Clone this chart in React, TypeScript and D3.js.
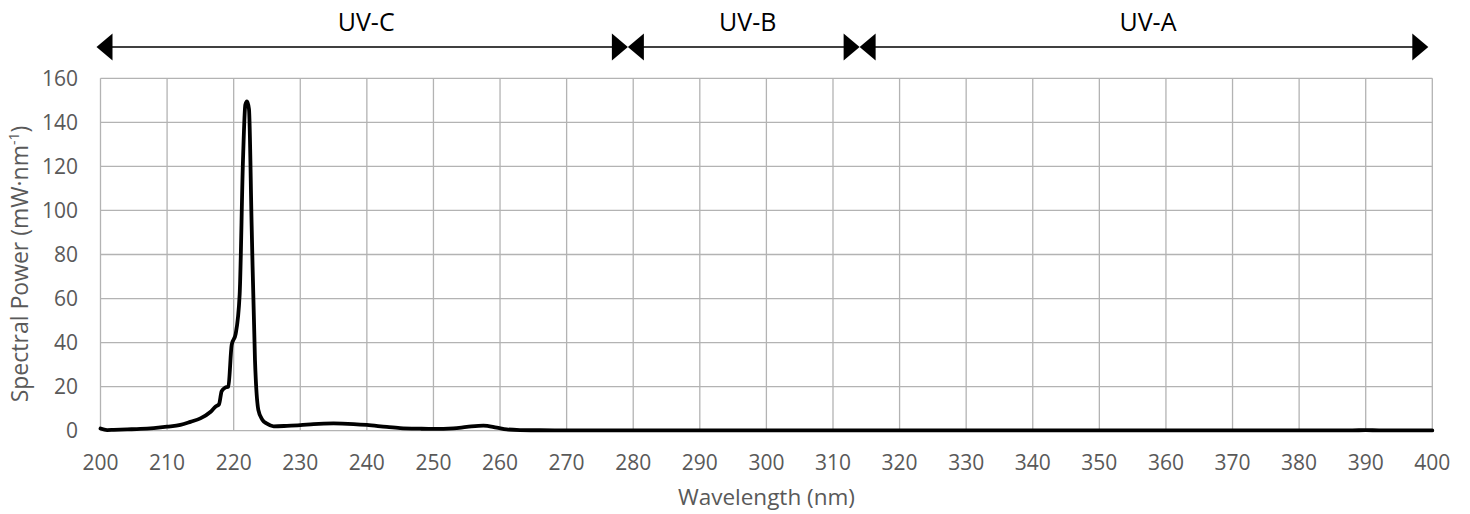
import React from "react";
import * as d3 from "d3";

const wavelengths = [
  200, 201, 202, 204, 206, 208, 210, 212, 213.5, 215, 216.5, 217.3, 217.8, 218.2, 218.7,
  219.2, 219.7, 220.3, 220.9, 221.4, 221.75, 222.0, 222.3, 222.7, 223.2, 223.7, 224.3,
  225, 226, 228, 230, 232, 235, 238, 240, 243, 245, 248, 250, 253, 255, 257.5, 259.5,
  261, 263, 266, 270, 280, 300, 320, 340, 360, 380, 388, 390, 392, 400,
];
const power = [
  1.0, 0.3, 0.4, 0.6, 0.8, 1.2, 1.8, 2.6, 4.0, 5.6, 8.5, 11, 12, 18, 19.5,
  20, 39, 44, 62, 123, 148, 149.5, 146, 93, 32, 9.5, 5,
  3.2, 2.0, 2.2, 2.5, 3.0, 3.3, 3.0, 2.6, 1.7, 1.2, 0.9, 0.8, 1.1, 1.7, 2.3, 1.4,
  0.6, 0.3, 0.2, 0.15, 0.15, 0.18, 0.15, 0.15, 0.12, 0.12, 0.15, 0.25, 0.15, 0.12,
];
const bandNames = ["UV-C", "UV-B", "UV-A"];
const bandStarts = [199.4, 279.2, 314.0];
const bandEnds = [279.2, 314.0, 399.4];
const xTicks = d3.range(200, 401, 10);
const yTicks = d3.range(0, 161, 20);

const W = 1470, H = 514;
const left = 100.5, right = 1432.3, top = 78.3, bottom = 430.7;

export default function App() {
  const x = d3.scaleLinear().domain([200, 400]).range([left, right]);
  const y = d3.scaleLinear().domain([0, 160]).range([bottom, top]);
  const pts = wavelengths.map((w, i) => [w, power[i]] as [number, number]);
  const line = d3
    .line<[number, number]>()
    .x((d) => x(d[0]))
    .y((d) => y(d[1]))
    .curve(d3.curveMonotoneX);
  const arrowY = 47;
  const tw = 16, th = 13.5;
  const font = "'Open Sans', sans-serif";
  const tickColor = "#595959";
  const gridColor = "#b3b3b3";
  return (
    <svg width={W} height={H} style={{ position: "absolute", left: 0, top: 0, background: "#fff" }}>
      <rect x={0} y={0} width={W} height={H} fill="#fff" />
      {yTicks.map((t) => (
        <line key={"gy" + t} x1={left} x2={right} y1={y(t)} y2={y(t)} stroke={gridColor} strokeWidth={1.3} />
      ))}
      {xTicks.map((t) => (
        <line key={"gx" + t} x1={x(t)} x2={x(t)} y1={top} y2={bottom} stroke={gridColor} strokeWidth={1.3} />
      ))}
      {yTicks.map((t) => (
        <text key={"ty" + t} x={78} y={y(t)} dy="0.36em" textAnchor="end" fontFamily={font} fontSize={21} fill={tickColor}>
          {t}
        </text>
      ))}
      {xTicks.map((t) => (
        <text key={"tx" + t} x={x(t)} y={470} textAnchor="middle" fontFamily={font} fontSize={21} fill={tickColor}>
          {t}
        </text>
      ))}
      <text x={x(300)} y={505} textAnchor="middle" fontFamily={font} fontSize={22.5} fill={tickColor}>
        Wavelength (nm)
      </text>
      <text transform={`translate(28,264) rotate(-90)`} textAnchor="middle" fontFamily={font} fontSize={23} fill={tickColor}>
        Spectral Power (mW·nm
        <tspan baselineShift="super" fontSize={14}>-1</tspan>)
      </text>
      <path d={line(pts) || ""} fill="none" stroke="#000" strokeWidth={3.8} strokeLinejoin="round" strokeLinecap="round" />
      {bandNames.map((n, i) => {
        const x0 = x(bandStarts[i]);
        const x1 = x(bandEnds[i]);
        return (
          <g key={n}>
            <line x1={x0 + 4} x2={x1 - 4} y1={arrowY} y2={arrowY} stroke="#000" strokeWidth={1.5} />
            <path d={`M${x0},${arrowY}L${x0 + tw},${arrowY - th}L${x0 + tw},${arrowY + th}Z`} fill="#000" />
            <path d={`M${x1},${arrowY}L${x1 - tw},${arrowY - th}L${x1 - tw},${arrowY + th}Z`} fill="#000" />
            <text x={(x0 + x1) / 2 + 4} y={31} textAnchor="middle" fontFamily={font} fontSize={25} fill="#000">
              {n}
            </text>
          </g>
        );
      })}
    </svg>
  );
}
